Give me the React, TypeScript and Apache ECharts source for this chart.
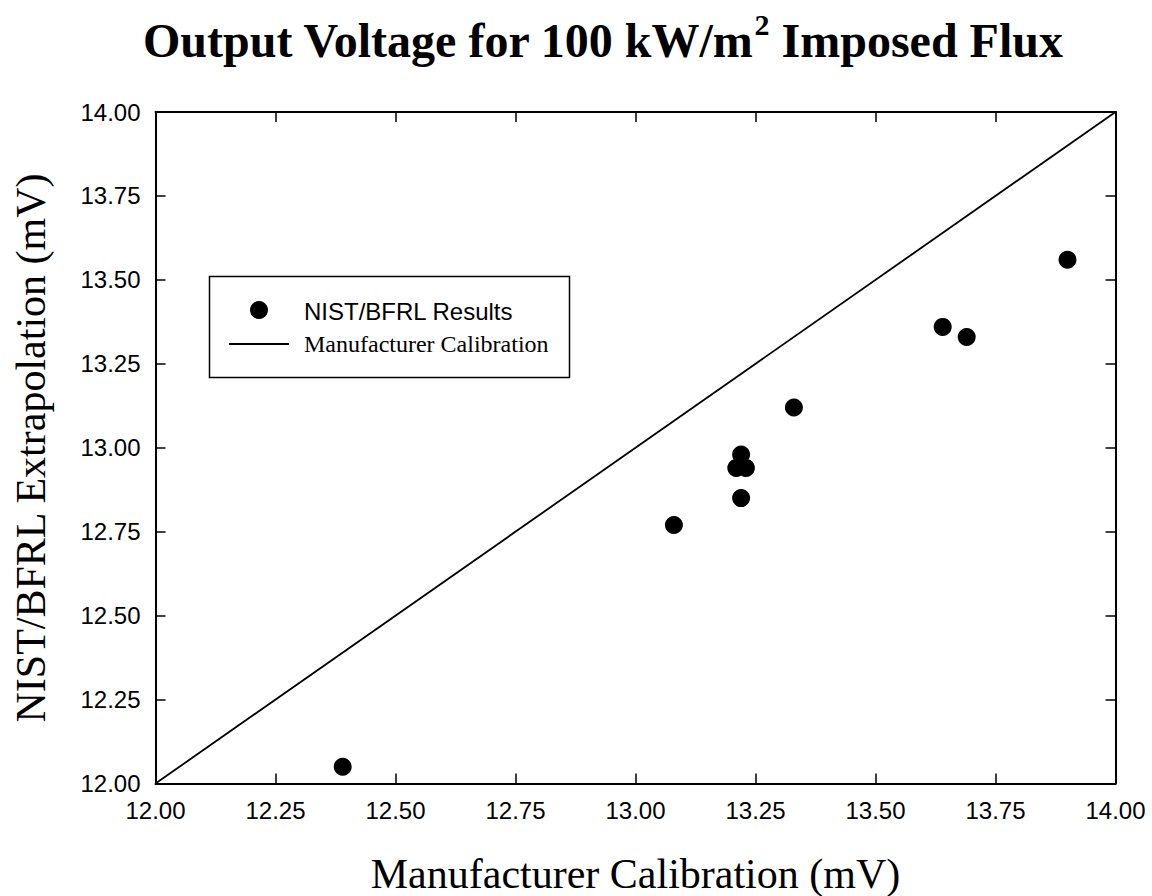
import { useEffect, useRef } from "react";
import * as echarts from "echarts";

const calibration = [12.39, 13.08, 13.22, 13.21, 13.23, 13.22, 13.33, 13.64, 13.69, 13.9];
const extrapolation = [12.05, 12.77, 12.85, 12.94, 12.94, 12.98, 13.12, 13.36, 13.33, 13.56];
const lineX = [12, 14];
const lineY = [12, 14];
const axisMin = 12;
const axisMax = 14;
const axisStep = 0.25;

const titleMain = "Output Voltage for 100 kW/m";
const titleSup = "2";
const titleTail = " Imposed Flux";
const xName = "Manufacturer Calibration (mV)";
const yName = "NIST/BFRL Extrapolation (mV)";
const legendNames = ["NIST/BFRL Results", "Manufacturer Calibration"];

const SERIF = '"Liberation Serif", "Times New Roman", serif';
const SANS = '"Liberation Sans", Arial, sans-serif';

export default function App() {
  const ref = useRef<HTMLDivElement>(null);
  useEffect(() => {
    if (!ref.current) return;
    const chart = echarts.init(ref.current, undefined, { renderer: "svg" });
    const baseAxis = {
      type: "value" as const,
      min: axisMin,
      max: axisMax,
      interval: axisStep,
      axisLine: { show: true, lineStyle: { color: "#000", width: 2 } },
      axisTick: { show: true, inside: true, length: 10, lineStyle: { color: "#000", width: 1.5 } },
      splitLine: { show: false },
    };
    const label = {
      show: true,
      color: "#000",
      fontFamily: SANS,
      fontSize: 24,
      formatter: (v: number) => v.toFixed(2),
    };
    chart.setOption({
      animation: false,
      backgroundColor: "#fff",
      title: {
        text: `{a|${titleMain}}{b|${titleSup}}{a|${titleTail}}`,
        left: 143,
        top: 12,
        padding: 0,
        textStyle: {
          rich: {
            a: { fontFamily: SERIF, fontWeight: "bold", fontSize: 48, lineHeight: 56, color: "#000" },
            b: { fontFamily: SERIF, fontWeight: "bold", fontSize: 30, lineHeight: 24, padding: [0, 0, 32, 0], color: "#000" },
          },
        },
      },
      grid: { left: 155.5, top: 112, right: 36.5, bottom: 112.5, containLabel: false },
      xAxis: [
        { ...baseAxis, position: "bottom", axisLabel: { ...label, margin: 15 } },
        { ...baseAxis, position: "top", axisLabel: { show: false } },
      ],
      yAxis: [
        { ...baseAxis, position: "left", axisLabel: { ...label, margin: 15 } },
        { ...baseAxis, position: "right", axisLabel: { show: false } },
      ],
      series: [
        {
          name: legendNames[1],
          type: "line",
          data: lineX.map((x, i) => [x, lineY[i]]),
          showSymbol: false,
          symbol: "none",
          lineStyle: { color: "#000", width: 1.8 },
          z: 2,
        },
        {
          name: legendNames[0],
          type: "scatter",
          data: calibration.map((x, i) => [x, extrapolation[i]]),
          symbol: "circle",
          symbolSize: 18,
          itemStyle: { color: "#000", opacity: 1 },
          z: 3,
        },
      ],
      graphic: [
        {
          type: "text",
          x: 635.5,
          y: 874,
          style: { text: xName, font: `42px ${SERIF}`, textAlign: "center", textVerticalAlign: "middle", fill: "#000" },
        },
        {
          type: "text",
          x: 31,
          y: 448,
          rotation: Math.PI / 2,
          style: { text: yName, font: `42px ${SERIF}`, textAlign: "center", textVerticalAlign: "middle", fill: "#000" },
        },
        {
          type: "group",
          children: [
            {
              type: "rect",
              shape: { x: 209.5, y: 276.5, width: 360, height: 101 },
              style: { fill: "#fff", stroke: "#000", lineWidth: 1.5 },
            },
            { type: "circle", shape: { cx: 259, cy: 310, r: 9 }, style: { fill: "#000" } },
            { type: "line", shape: { x1: 229, y1: 344, x2: 289, y2: 344 }, style: { stroke: "#000", lineWidth: 1.8 } },
            {
              type: "text",
              x: 304,
              y: 311,
              style: { text: legendNames[0], font: `24px ${SANS}`, textAlign: "left", textVerticalAlign: "middle", fill: "#000" },
            },
            {
              type: "text",
              x: 304,
              y: 344,
              style: { text: legendNames[1], font: `24px ${SERIF}`, textAlign: "left", textVerticalAlign: "middle", fill: "#000" },
            },
          ],
        },
      ],
    });
    return () => chart.dispose();
  }, []);
  return <div ref={ref} style={{ position: "absolute", left: 0, top: 0, width: 1152, height: 896 }} />;
}
